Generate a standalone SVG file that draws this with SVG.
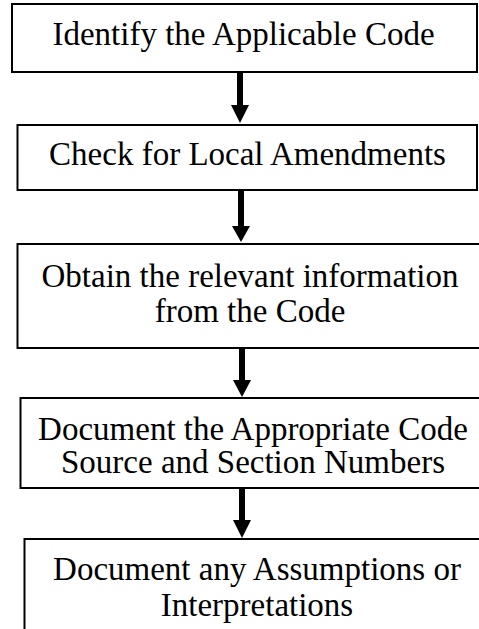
<svg xmlns="http://www.w3.org/2000/svg" width="479" height="629" viewBox="0 0 479 629">
<defs>
<style>
.box{fill:#fff;stroke:#000;stroke-width:2}
.t{font-family:'Liberation Serif','Times New Roman',serif;font-size:33px;fill:#000;text-anchor:middle}
.shaft{stroke:#000;stroke-width:6}
</style>
</defs>
<rect width="479" height="629" fill="#fff"/>
<g id="n1">
<rect class="box" x="12" y="4" width="465" height="68" stroke-width="2.5"/>
<text class="t" x="243.5" y="45">Identify the Applicable Code</text>
</g>
<g id="n2">
<rect class="box" x="17.5" y="125" width="459.5" height="65"/>
<text class="t" x="247.5" y="165">Check for Local Amendments</text>
</g>
<g id="n3">
<rect class="box" x="17.5" y="244" width="470" height="104"/>
<text class="t" x="250" y="287">Obtain the relevant information</text>
<text class="t" x="250" y="322">from the Code</text>
</g>
<g id="n4">
<rect class="box" x="20.5" y="398" width="470" height="90"/>
<text class="t" x="253" y="440">Document the Appropriate Code</text>
<text class="t" x="253" y="473">Source and Section Numbers</text>
</g>
<g id="n5">
<path class="box" d="M24.5 640 V539 H490"/>
<text class="t" x="257" y="580">Document any Assumptions or</text>
<text class="t" x="257" y="616">Interpretations</text>
</g>
<g id="connectors">
<line class="shaft" x1="240" y1="72" x2="240" y2="106"/>
<polygon points="231,105 249,105 240,123"/>
<line class="shaft" x1="241" y1="190" x2="241" y2="227"/>
<polygon points="232,226 250,226 241,242"/>
<line class="shaft" x1="242" y1="348" x2="242" y2="381"/>
<polygon points="233,380 251,380 242,397"/>
<line class="shaft" x1="242" y1="488" x2="242" y2="521"/>
<polygon points="233,520 251,520 242,538"/>
</g>
</svg>
